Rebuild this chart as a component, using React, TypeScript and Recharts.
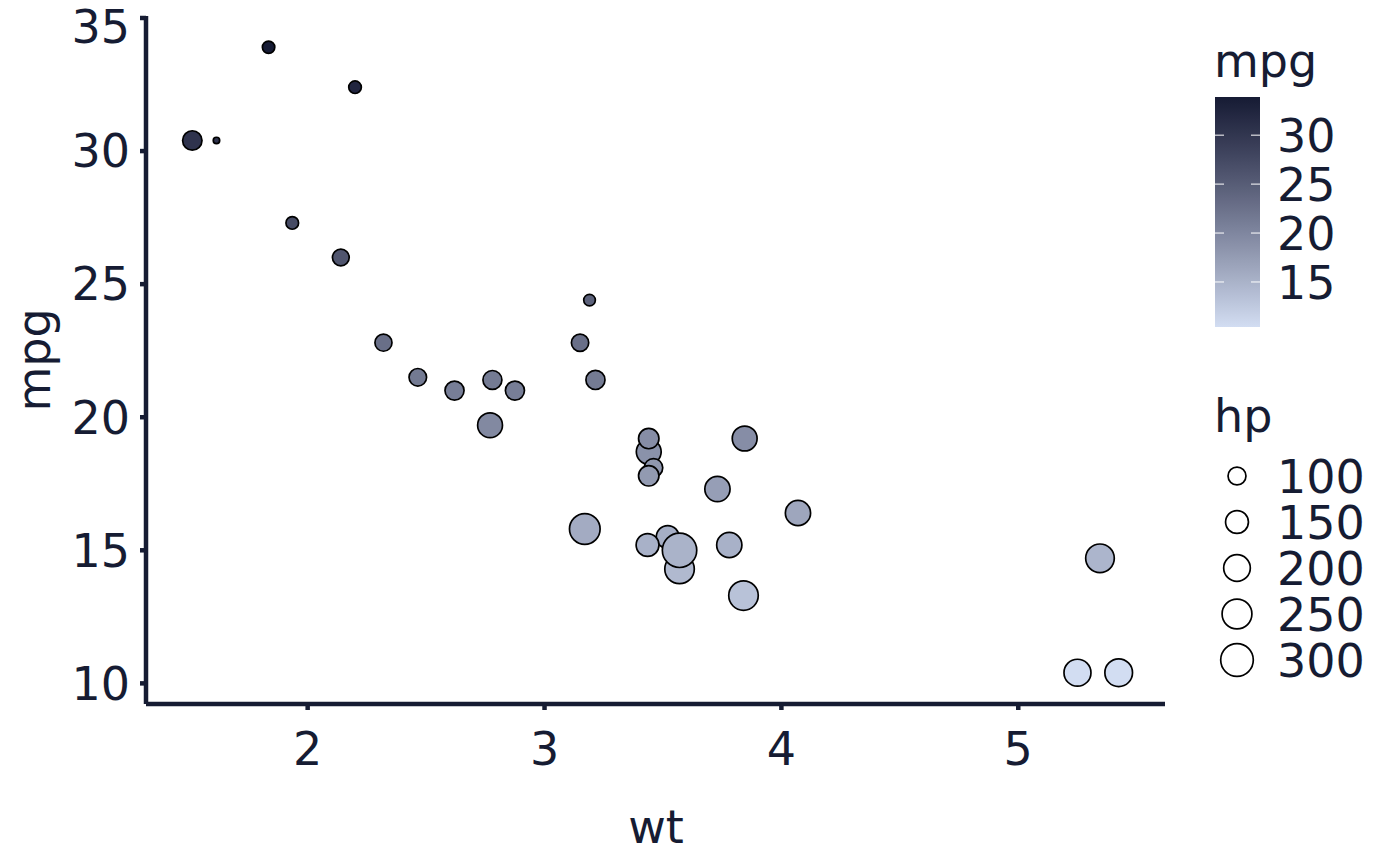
import { ScatterChart, Scatter, XAxis, YAxis } from "recharts";

// mtcars
const cars = [
  "Mazda RX4", "Mazda RX4 Wag", "Datsun 710", "Hornet 4 Drive", "Hornet Sportabout", "Valiant",
  "Duster 360", "Merc 240D", "Merc 230", "Merc 280", "Merc 280C", "Merc 450SE", "Merc 450SL",
  "Merc 450SLC", "Cadillac Fleetwood", "Lincoln Continental", "Chrysler Imperial", "Fiat 128",
  "Honda Civic", "Toyota Corolla", "Toyota Corona", "Dodge Challenger", "AMC Javelin", "Camaro Z28",
  "Pontiac Firebird", "Fiat X1-9", "Porsche 914-2", "Lotus Europa", "Ford Pantera L", "Ferrari Dino",
  "Maserati Bora", "Volvo 142E",
];
const wt = [
  2.62, 2.875, 2.32, 3.215, 3.44, 3.46, 3.57, 3.19, 3.15, 3.44, 3.44, 4.07, 3.73, 3.78, 5.25, 5.424,
  5.345, 2.2, 1.615, 1.835, 2.465, 3.52, 3.435, 3.84, 3.845, 1.935, 2.14, 1.513, 3.17, 2.77, 3.57, 2.78,
];
const mpg = [
  21.0, 21.0, 22.8, 21.4, 18.7, 18.1, 14.3, 24.4, 22.8, 19.2, 17.8, 16.4, 17.3, 15.2, 10.4, 10.4,
  14.7, 32.4, 30.4, 33.9, 21.5, 15.5, 15.2, 13.3, 19.2, 27.3, 26.0, 30.4, 15.8, 19.7, 15.0, 21.4,
];
const hp = [
  110, 110, 93, 110, 175, 105, 245, 62, 95, 123, 123, 180, 180, 180, 205, 215, 230, 66, 52, 65, 97,
  150, 150, 245, 175, 66, 91, 113, 264, 175, 335, 109,
];

const xTicks = [2, 3, 4, 5];
const yTicks = [10, 15, 20, 25, 30, 35];
const mpgBreaks = [15, 20, 25, 30];
const hpBreaks = [100, 150, 200, 250, 300];

const data = cars.map((name, i) => ({ name, wt: wt[i], mpg: mpg[i], hp: hp[i] }));

const INK = "#161c33";
const FONT = "DejaVu Sans";
const FS = 46;
const LOW = "#d2ddf2";
const HIGH = "#161b34";

const mpgMin = Math.min(...mpg);
const mpgMax = Math.max(...mpg);
const hpMin = Math.min(...hp);
const hpMax = Math.max(...hp);

// colour ramp in CIELAB, like scale_colour_gradient
function toLab(hex: string) {
  const c = [1, 3, 5].map((k) => parseInt(hex.slice(k, k + 2), 16) / 255);
  const l = c.map((v) => (v <= 0.04045 ? v / 12.92 : Math.pow((v + 0.055) / 1.055, 2.4)));
  const X = (0.4124 * l[0] + 0.3576 * l[1] + 0.1805 * l[2]) / 0.95047;
  const Y = 0.2126 * l[0] + 0.7152 * l[1] + 0.0722 * l[2];
  const Z = (0.0193 * l[0] + 0.1192 * l[1] + 0.9505 * l[2]) / 1.08883;
  const f = (t: number) => (t > 0.008856 ? Math.cbrt(t) : 7.787 * t + 16 / 116);
  return [116 * f(Y) - 16, 500 * (f(X) - f(Y)), 200 * (f(Y) - f(Z))];
}
function fromLab([L, a, b]: number[]) {
  const fy = (L + 16) / 116;
  const fx = fy + a / 500;
  const fz = fy - b / 200;
  const inv = (t: number) => (t * t * t > 0.008856 ? t * t * t : (t - 16 / 116) / 7.787);
  const X = inv(fx) * 0.95047;
  const Y = inv(fy);
  const Z = inv(fz) * 1.08883;
  const lin = [
    3.2406 * X - 1.5372 * Y - 0.4986 * Z,
    -0.9689 * X + 1.8758 * Y + 0.0415 * Z,
    0.0557 * X - 0.204 * Y + 1.057 * Z,
  ];
  return (
    "#" +
    lin
      .map((v) => {
        const s = v <= 0.0031308 ? 12.92 * v : 1.055 * Math.pow(v, 1 / 2.4) - 0.055;
        const n = Math.round(Math.min(1, Math.max(0, s)) * 255);
        return n.toString(16).padStart(2, "0");
      })
      .join("")
  );
}
const lowLab = toLab(LOW);
const highLab = toLab(HIGH);
function mpgColor(v: number) {
  const t = (v - mpgMin) / (mpgMax - mpgMin);
  return fromLab(lowLab.map((lo, k) => lo + (highLab[k] - lo) * t));
}

// area scaling, like scale_size
function hpRadius(v: number) {
  const t = Math.min(1, Math.max(0, (v - hpMin) / (hpMax - hpMin)));
  const size = 1 + 5 * Math.sqrt(t);
  return 2.8 * size + 0.4;
}

const Dot = (props: any) => {
  const { cx, cy, payload } = props;
  if (cx == null || cy == null) return null;
  return (
    <circle
      cx={cx}
      cy={cy}
      r={hpRadius(payload.hp)}
      fill={mpgColor(payload.mpg)}
      stroke="#000"
      strokeWidth={1.7}
    />
  );
};

const barTop = 97;
const barBottom = 327;
const barY = (v: number) => barBottom - ((v - mpgMin) / (mpgMax - mpgMin)) * (barBottom - barTop);

export default function App() {
  const tickStyle = { fill: INK, fontSize: FS, fontFamily: FONT };
  const line = { stroke: INK, strokeWidth: 4.5 };
  return (
    <div style={{ position: "absolute", left: 0, top: 0, width: 1400, height: 866, background: "#fff" }}>
      <ScatterChart width={1400} height={866} margin={{ top: 16, right: 235, bottom: 0, left: 0 }}>
        <XAxis
          type="number"
          dataKey="wt"
          domain={[1.3175, 5.6195]}
          ticks={xTicks}
          allowDataOverflow
          height={162}
          tick={tickStyle}
          tickSize={6}
          tickMargin={22}
          axisLine={line}
          tickLine={line}
        />
        <YAxis
          type="number"
          dataKey="mpg"
          domain={[9.225, 35.075]}
          ticks={yTicks}
          allowDataOverflow
          width={146}
          tick={tickStyle}
          tickSize={6}
          tickMargin={10}
          axisLine={line}
          tickLine={line}
        />
        <Scatter data={data} shape={Dot} isAnimationActive={false} />
      </ScatterChart>

      <svg
        width={1400}
        height={866}
        style={{ position: "absolute", left: 0, top: 0, pointerEvents: "none" }}
        fontFamily={FONT}
        fill={INK}
      >
        <text x={656} y={843} fontSize={FS} textAnchor="middle">wt</text>
        <text transform="translate(50,360) rotate(-90)" fontSize={FS} textAnchor="middle">mpg</text>

        <text x={1214} y={77} fontSize={FS}>mpg</text>
        <defs>
          <linearGradient id="mpgbar" x1="0" y1="1" x2="0" y2="0">
            {Array.from({ length: 21 }, (_, i) => (
              <stop
                key={i}
                offset={i / 20}
                stopColor={mpgColor(mpgMin + ((mpgMax - mpgMin) * i) / 20)}
              />
            ))}
          </linearGradient>
        </defs>
        <rect x={1215} y={barTop} width={45} height={barBottom - barTop} fill="url(#mpgbar)" />
        {mpgBreaks.map((b) => (
          <g key={b}>
            <line x1={1215} x2={1224} y1={barY(b)} y2={barY(b)} stroke="#fff" strokeWidth={1} />
            <line x1={1251} x2={1260} y1={barY(b)} y2={barY(b)} stroke="#fff" strokeWidth={1} />
            <text x={1277} y={barY(b)} dy="0.36em" fontSize={FS}>{b}</text>
          </g>
        ))}

        <text x={1214} y={432} fontSize={FS}>hp</text>
        {hpBreaks.map((b, i) => (
          <g key={b}>
            <circle cx={1237} cy={476 + i * 46} r={hpRadius(b)} fill="#fff" stroke="#000" strokeWidth={1.7} />
            <text x={1277} y={476 + i * 46} dy="0.36em" fontSize={FS}>{b}</text>
          </g>
        ))}
      </svg>
    </div>
  );
}
